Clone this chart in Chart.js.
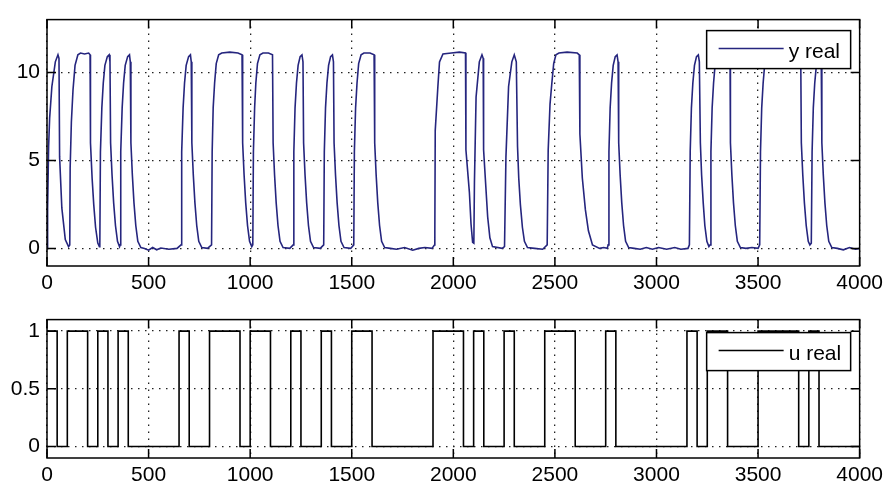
<!DOCTYPE html>
<html><head><meta charset="utf-8">
<script src="https://cdn.jsdelivr.net/npm/chart.js@4.4.1/dist/chart.umd.min.js"></script>
<style>
html,body{margin:0;padding:0;background:#fff;}
#wrap{position:relative;width:888px;height:491px;overflow:hidden;}
#c1{position:absolute;left:0;top:0;}
#c2{position:absolute;left:0;top:300px;}
</style></head><body>
<div id="wrap"><canvas id="c1" width="888" height="300"></canvas><canvas id="c2" width="888" height="191"></canvas></div>
<script>
// ---- data ----
const xTicks = [0,500,1000,1500,2000,2500,3000,3500,4000];
const yTopTicks = [0,5,10];
const yBotTicks = [0,0.5,1];
const yLabel = 'y real';
const uLabel = 'u real';

// y real : time samples and values
const yTime = [
 0,3,8,13,24,41,54,59,62,73,90,106,
 112,114,120,128,138,152,165,185,205,212,214,222,230,239,250,258,
 260,263,270,277,285,297,306,310,313,320,328,337,347,357,
 360,363,370,377,385,397,406,410,413,420,428,437,447,462,480,500,520,540,560,600,640,
 660,663,670,677,685,697,706,710,713,720,728,737,747,762,790,
 810,813,818,825,833,845,860,900,940,960,963,970,978,987,997,1008,
 1013,1016,1022,1028,1036,1048,1063,1090,1110,1113,1120,1128,1137,1147,1162,1195,
 1212,1215,1221,1228,1236,1246,1255,1260,1263,1270,1278,1287,1297,1312,1345,
 1362,1365,1371,1378,1386,1396,1405,1410,1413,1420,1428,1437,1447,1462,1495,
 1510,1513,1519,1526,1534,1546,1560,1590,1610,1613,1620,1628,1637,1647,1662,1690,1720,1760,1800,1830,1860,1895,
 1908,1909,1911,1924,1932,1949,1990,2030,2060,2062,2079,2087,2095,2101,
 2104,2112,2128,2141,2147,2149,2160,2169,2180,2193,2240,
 2252,2259,2272,2288,2300,2310,2316,2322,2330,2340,2350,2365,2400,2440,
 2462,2467,2476,2485,2494,2505,2520,2560,2610,2620,2623,2635,2650,2665,2685,2720,2740,2758,
 2762,2766,2772,2779,2787,2797,2806,2811,2814,2821,2829,2838,2848,2863,2890,2920,2950,2980,3010,3050,3090,3120,3155,
 3162,3166,3172,3179,3187,3197,3206,3211,3216,3222,3230,3238,3248,3258,
 3264,3268,3274,3281,3289,3300,3315,3345,3362,3364,3371,3379,3388,3398,3413,3440,3470,3500,
 3508,3512,3518,3525,3533,3545,3560,3600,3660,3710,3713,3720,3728,3737,3747,3755,
 3762,3766,3772,3779,3787,3797,3806,3811,3814,3821,3829,3838,3848,3863,3890,3920,3950,3980,4000
];
const yValue = [
 0,2.3,5.8,7.4,9.2,10.6,11.0,10.8,5.2,2.3,0.5,0.1,
 0.2,4.6,7.2,9.0,10.4,11.0,11.1,11.05,11.1,11.0,6.0,4.0,2.5,1.2,0.3,0.1,
 0.2,5.5,8.0,9.4,10.4,10.9,11.0,10.6,6.0,4.2,2.6,1.3,0.4,0.1,
 0.2,5.5,8.0,9.4,10.4,10.9,11.0,10.6,6.0,4.2,2.6,1.3,0.4,0.05,0,-0.1,0.05,-0.08,0.02,-0.05,0,
 0.2,5.5,8.0,9.4,10.4,10.9,11.0,10.6,6.0,4.2,2.6,1.3,0.4,0.05,0,
 0.2,5.5,8.0,9.4,10.5,11.0,11.1,11.15,11.1,11.0,6.0,4.2,2.6,1.3,0.4,0.1,
 0.2,5.5,8.0,9.4,10.5,11.0,11.1,11.1,11.0,6.0,4.2,2.6,1.3,0.4,0.05,0,
 0.2,5.5,8.0,9.4,10.4,10.9,11.0,10.6,6.0,4.2,2.6,1.3,0.4,0.05,0,
 0.2,5.5,8.0,9.4,10.4,10.9,11.0,10.6,6.0,4.2,2.6,1.3,0.4,0.05,0,
 0.2,5.5,8.0,9.4,10.5,11.0,11.1,11.1,11.0,6.0,4.2,2.6,1.3,0.4,0.05,0,-0.05,0.05,-0.1,0,0.05,0,
 0.2,1.0,6.7,9.2,10.6,11.05,11.1,11.15,11.1,5.6,3.2,1.4,0.35,0.3,
 3.8,8.6,10.6,11.0,10.8,5.6,3.5,1.8,0.6,0.1,0,
 0.1,5.2,9.2,10.6,11.0,10.6,5.8,4.0,2.5,1.2,0.4,0.05,0,-0.05,
 0.2,5.6,8.2,9.4,10.5,11.0,11.1,11.15,11.1,11.0,6.5,4.0,2.2,1.0,0.2,0,0.05,0,
 0.2,5.5,8.0,9.4,10.4,10.9,11.0,10.6,6.0,4.2,2.6,1.3,0.4,0.05,0,-0.05,0.05,-0.05,0.05,-0.05,0.05,-0.05,0,
 0.2,5.5,8.0,9.4,10.4,10.9,11.0,10.6,6.0,4.2,2.6,1.3,0.4,0.1,
 0.2,5.5,8.0,9.4,10.5,11.0,11.1,11.1,11.0,6.0,4.2,2.6,1.3,0.4,0.05,0,0.05,0,
 0.2,5.5,8.0,9.4,10.5,11.0,11.1,11.15,11.1,11.0,6.0,4.2,2.6,1.3,0.4,0.2,
 0.3,5.5,8.0,9.4,10.4,10.9,11.0,10.6,6.0,4.2,2.6,1.3,0.4,0.05,0,-0.08,0.05,-0.05,0
];

// u real : switching times and the value that starts at each time
const uTime = [0,50,100,200,250,300,350,400,650,700,800,950,1000,1100,1200,1250,1350,1400,1500,1600,
 1900,2050,2100,2150,2250,2300,2450,2600,2750,2800,3150,3200,3250,3350,3500,3700,3750,3800,4000];
const uValue = [1,0,1,0,1,0,1,0,1,0,1,0,1,0,1,0,1,0,1,0,
 1,0,1,0,1,0,1,0,1,0,1,0,1,0,1,0,1,0,0];

// ---- rendering ----
const FONT = {family:'"Liberation Sans", Arial, Helvetica, sans-serif', size:21};
const Y_COLOR = '#25257e';

const framePlugin = {
  id:'frame',
  afterDraw(chart, args, opts){
    const {ctx, chartArea:a, scales} = chart;
    ctx.save();
    ctx.strokeStyle = '#000';
    ctx.lineWidth = 1.5;
    ctx.strokeRect(a.left, a.top, a.right - a.left, a.bottom - a.top);
    const L = 9;
    ctx.beginPath();
    scales.x.ticks.forEach(t => {
      const px = scales.x.getPixelForValue(t.value);
      ctx.moveTo(px, a.top); ctx.lineTo(px, a.top + L);
      ctx.moveTo(px, a.bottom); ctx.lineTo(px, a.bottom - L);
    });
    scales.y.ticks.forEach(t => {
      const py = scales.y.getPixelForValue(t.value);
      ctx.moveTo(a.left, py); ctx.lineTo(a.left + L, py);
      ctx.moveTo(a.right, py); ctx.lineTo(a.right - L, py);
    });
    ctx.stroke();
    // opaque legend box (MATLAB style)
    const bw = 144, bh = 38;
    const bx = a.right - 9 - bw, by = a.top + opts.top;
    ctx.fillStyle = '#fff';
    ctx.fillRect(bx, by, bw, bh);
    ctx.lineWidth = 1.5;
    ctx.strokeStyle = '#000';
    ctx.strokeRect(bx, by, bw, bh);
    const cy = by + bh/2 - 1;
    ctx.beginPath();
    ctx.strokeStyle = opts.color;
    ctx.lineWidth = 1.5;
    ctx.moveTo(bx + 12, cy); ctx.lineTo(bx + 77, cy);
    ctx.stroke();
    ctx.fillStyle = '#000';
    ctx.font = FONT.size + 'px ' + FONT.family;
    ctx.textBaseline = 'alphabetic';
    ctx.textAlign = 'left';
    ctx.fillText(opts.label, bx + 82, by + bh/2 + 8);
    ctx.restore();
  }
};

function scaleX(h){
  return {
    type:'linear', min:0, max:4000,
    afterBuildTicks: s => { s.ticks = xTicks.map(v => ({value:v})); },
    afterFit: s => { s.height = h; },
    ticks:{ autoSkip:false, maxRotation:0, padding:5, color:'#000', font:FONT, callback:v => String(v) },
    grid:{ color:'#222', lineWidth:1.3, drawTicks:false },
    border:{ display:false, dash:[1.5,5.5] }
  };
}
function scaleY(min, max, tks){
  return {
    type:'linear', min:min, max:max,
    afterBuildTicks: s => { s.ticks = tks.map(v => ({value:v})); },
    afterFit: s => { s.width = 47; },
    ticks:{ padding:7, color:'#000', font:FONT, callback:v => String(v) },
    grid:{ color:'#222', lineWidth:1.3, drawTicks:false },
    border:{ display:false, dash:[1.5,5.5] }
  };
}

const n = Math.min(yTime.length, yValue.length);
const yData = [];
for (let i = 0; i < n; i++) yData.push({x:yTime[i], y:yValue[i]});
const uData = uTime.map((t,i) => ({x:t, y:uValue[i]}));

new Chart(document.getElementById('c1'), {
  type:'line',
  data:{ datasets:[{ label:yLabel, data:yData, borderColor:Y_COLOR, borderWidth:1.6, pointRadius:0, tension:0, fill:false }]},
  options:{
    responsive:false, animation:false, devicePixelRatio:1,
    layout:{ padding:{left:0, right:24, top:6, bottom:0} },
    plugins:{ legend:{display:false}, tooltip:{enabled:false}, frame:{label:yLabel, color:Y_COLOR, top:11} },
    scales:{ x:scaleX(34), y:scaleY(-1, 13, yTopTicks) }
  },
  plugins:[framePlugin]
});

new Chart(document.getElementById('c2'), {
  type:'line',
  data:{ datasets:[{ label:uLabel, data:uData, borderColor:'#000', borderWidth:1.6, pointRadius:0, stepped:'before', fill:false }]},
  options:{
    responsive:false, animation:false, devicePixelRatio:1,
    layout:{ padding:{left:0, right:24, top:13, bottom:0} },
    plugins:{ legend:{display:false}, tooltip:{enabled:false}, frame:{label:uLabel, color:'#000', top:13} },
    scales:{ x:scaleX(33), y:scaleY(-0.1, 1.1, yBotTicks) }
  },
  plugins:[framePlugin]
});
</script>
</body></html>
